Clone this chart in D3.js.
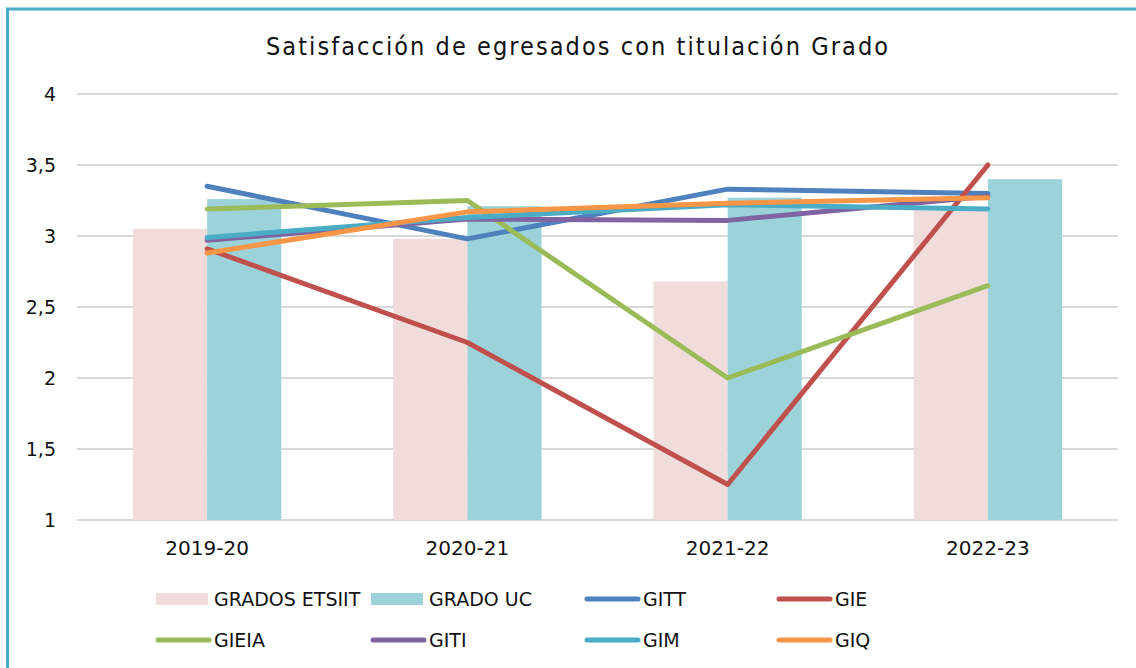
<!DOCTYPE html>
<html>
<head>
<meta charset="utf-8">
<script src="https://cdn.jsdelivr.net/npm/d3@7"></script>
<style>
  html, body { margin: 0; padding: 0; background: #fff; }
  svg { display: block; }
</style>
</head>
<body>
<svg id="chart" width="1136" height="668"></svg>
<script>
// Academic years on the x axis
const years = ["2019-20", "2020-21", "2021-22", "2022-23"];

// Bar series
const gradosEtsiit = [3.05, 2.98, 2.68, 3.18];
const gradoUc = [3.26, 3.21, 3.27, 3.40];

// Line series (one per degree)
const gitt  = [3.35, 2.98, 3.33, 3.30];
const gie   = [2.91, 2.25, 1.25, 3.50];
const gieia = [3.19, 3.25, 2.00, 2.65];
const giti  = [2.97, 3.12, 3.11, 3.28];
const gim   = [2.99, 3.13, 3.22, 3.19];
const giq   = [2.88, 3.17, 3.23, 3.27];

const yTicks = [1, 1.5, 2, 2.5, 3, 3.5, 4];
const title = "Satisfacción de egresados con titulación Grado";

const barSeries = [
  { name: "GRADOS ETSIIT", values: gradosEtsiit, color: "#f0dcdb" },
  { name: "GRADO UC", values: gradoUc, color: "#9cd3db" }
];
const lineSeries = [
  { name: "GITT", values: gitt, color: "#4f81bd" },
  { name: "GIE", values: gie, color: "#c0504d" },
  { name: "GIEIA", values: gieia, color: "#9bbb59" },
  { name: "GITI", values: giti, color: "#8064a2" },
  { name: "GIM", values: gim, color: "#4bacc6" },
  { name: "GIQ", values: giq, color: "#f79646" }
];

const svg = d3.select("#chart");
const W = 1136, H = 668;
const font = "'DejaVu Sans', sans-serif";

// Frame (only top and left edges fall inside the canvas)
svg.append("rect")
  .attr("x", 7.5).attr("y", 9)
  .attr("width", W + 20).attr("height", H + 20)
  .attr("fill", "#fff")
  .attr("stroke", "#4bacc6").attr("stroke-width", 3);

const plot = { left: 77, right: 1118, top: 94, bottom: 520 };

const x = d3.scaleBand().domain(years).range([plot.left, plot.right]).paddingInner(0).paddingOuter(0);
const y = d3.scaleLinear().domain([1, 4]).range([plot.bottom, plot.top]);

// Title
svg.append("text")
  .attr("x", 577).attr("y", 55)
  .attr("text-anchor", "middle")
  .attr("font-family", "'DejaVu Sans Condensed', 'DejaVu Sans', sans-serif")
  .attr("font-stretch", "condensed")
  .attr("font-size", 25)
  .attr("fill", "#111")
  .attr("textLength", 622)
  .attr("lengthAdjust", "spacing")
  .text(title);

// Horizontal gridlines
svg.append("g").selectAll("line")
  .data(yTicks).join("line")
  .attr("x1", plot.left).attr("x2", plot.right)
  .attr("y1", d => y(d)).attr("y2", d => y(d))
  .attr("stroke", "#d9d9d9").attr("stroke-width", 2);

// Y axis labels
const fmt = d => String(d).replace(".", ",");
svg.append("g").selectAll("text")
  .data(yTicks).join("text")
  .attr("x", 56).attr("y", d => y(d) + 7)
  .attr("text-anchor", "end")
  .attr("font-family", font).attr("font-size", 19).attr("fill", "#111")
  .text(fmt);

// X axis labels
svg.append("g").selectAll("text")
  .data(years).join("text")
  .attr("x", d => x(d) + x.bandwidth() / 2).attr("y", 555)
  .attr("text-anchor", "middle")
  .attr("font-family", font).attr("font-size", 20).attr("fill", "#111")
  .text(d => d);

// Clustered bars
const inner = d3.scaleBand().domain(barSeries.map(s => s.name))
  .range([0, x.bandwidth()]).paddingOuter(0.755).paddingInner(0);
barSeries.forEach(s => {
  svg.append("g").selectAll("rect")
    .data(years.map((yr, i) => ({ yr, v: s.values[i] }))).join("rect")
    .attr("x", d => x(d.yr) + inner(s.name))
    .attr("width", inner.bandwidth())
    .attr("y", d => y(d.v))
    .attr("height", d => y(1) - y(d.v))
    .attr("fill", s.color);
});

// Lines through category centres
const line = d3.line()
  .x((d, i) => x(years[i]) + x.bandwidth() / 2)
  .y(d => y(d));
lineSeries.forEach(s => {
  svg.append("path")
    .datum(s.values)
    .attr("d", line)
    .attr("fill", "none")
    .attr("stroke", s.color)
    .attr("stroke-width", 5)
    .attr("stroke-linecap", "round")
    .attr("stroke-linejoin", "round");
});

// Legend: two rows of four entries
const legendItems = [...barSeries.map(s => ({ ...s, kind: "bar" })), ...lineSeries.map(s => ({ ...s, kind: "line" }))];
const colX = [156, 371, 585, 777];
const rowY = [599, 640];
const lg = svg.append("g");
legendItems.forEach((d, i) => {
  const cx = colX[i % 4], cy = rowY[Math.floor(i / 4)];
  if (d.kind === "bar") {
    lg.append("rect").attr("x", cx).attr("y", cy - 6).attr("width", 52).attr("height", 12).attr("fill", d.color);
  } else {
    lg.append("line").attr("x1", cx + 2).attr("x2", cx + 53)
      .attr("y1", cy).attr("y2", cy)
      .attr("stroke", d.color).attr("stroke-width", 5).attr("stroke-linecap", "round");
  }
  lg.append("text").attr("x", cx + 58).attr("y", cy + 7)
    .attr("font-family", font).attr("font-size", 19).attr("fill", "#111")
    .text(d.name);
});
</script>
</body>
</html>
